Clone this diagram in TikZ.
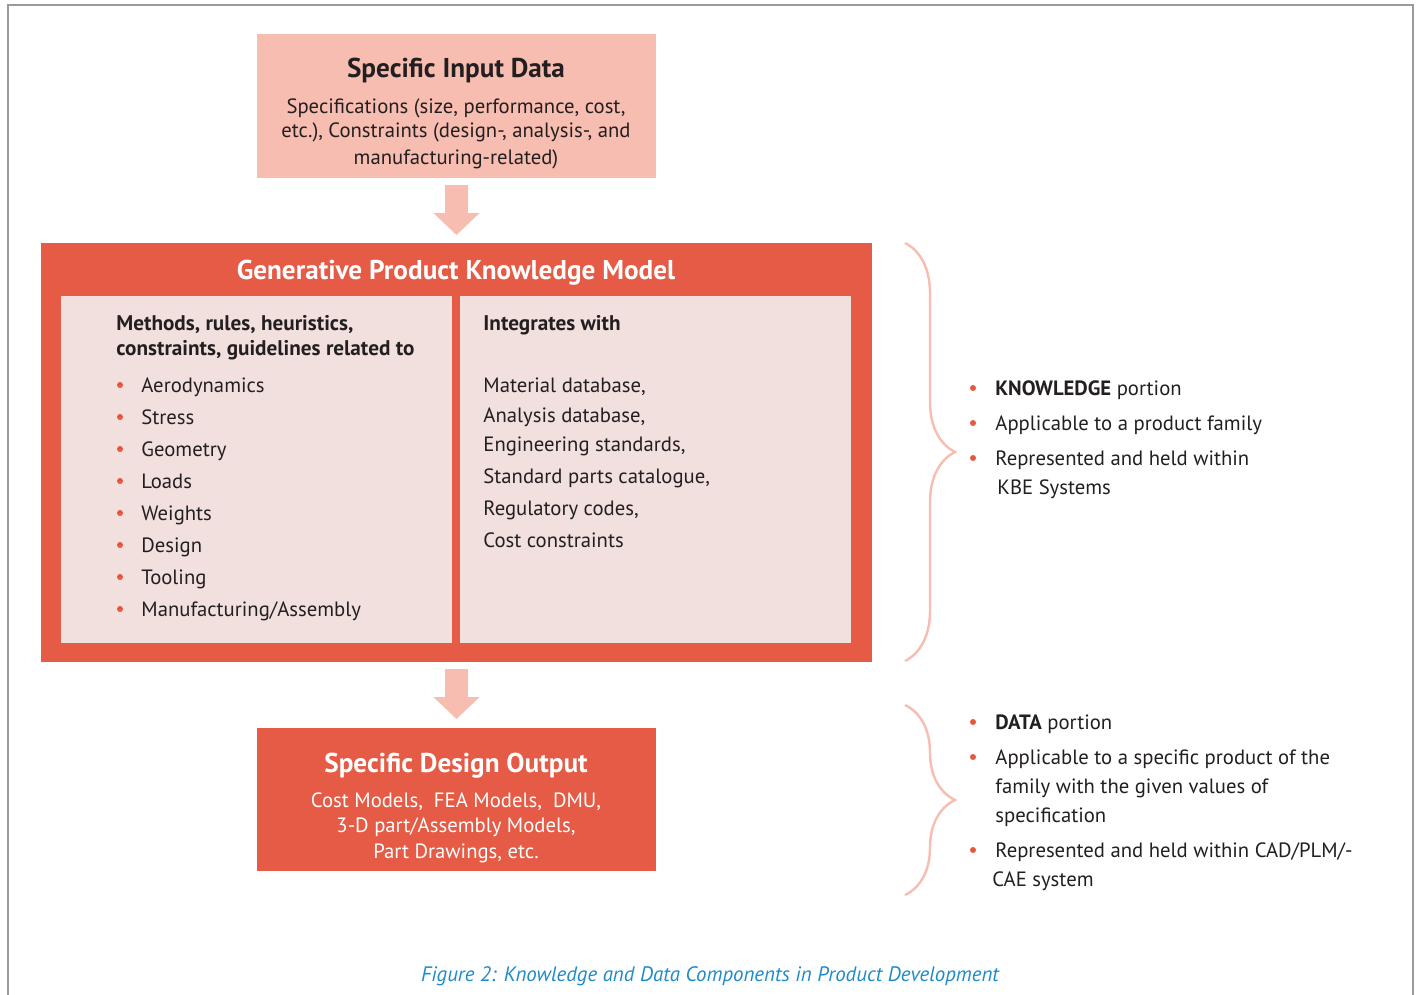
\documentclass[tikz,border=0pt]{standalone}
\usepackage{fontspec}
\setmainfont{PT Sans}
\usetikzlibrary{arrows.meta,decorations.pathreplacing}
\definecolor{lightpink}{HTML}{F7BDB0}
\definecolor{redbox}{HTML}{E55B45}
\definecolor{panel}{HTML}{F2E0DF}
\definecolor{txt}{HTML}{231F20}
\definecolor{capblue}{HTML}{1E8BC9}
\definecolor{bulletc}{HTML}{E8573F}
\definecolor{frame}{HTML}{9A9A9A}
\tikzset{
  boxr/.style={anchor=north west, inner sep=0pt, outer sep=0pt, draw=none},
  body/.style={font=\fontsize{10.35}{12}\selectfont, text=txt, inner sep=0pt, yshift=-1pt},
  title/.style={font=\fontsize{13.6}{15}\selectfont\bfseries, inner sep=0pt, yshift=-2.2pt},
  hd/.style={font=\fontsize{10.6}{12}\selectfont\bfseries, text=txt, inner sep=0pt, anchor=mid west, yshift=-1pt},
  item/.style={body, anchor=mid west},
  dot/.style={circle, fill=bulletc, inner sep=0pt, minimum size=3pt},
  fatarrow/.style={draw=lightpink, line width=11.5pt, -{Triangle[width=22.5pt,length=11pt]}},
  bracec/.style={draw=lightpink, line width=1.2pt, decorate, decoration={brace, amplitude=25pt}}
}
\begin{document}
\begin{tikzpicture}[x=0.5pt,y=-0.5pt]
\useasboundingbox (0,0) rectangle (1418,995);
\draw[frame, line width=1.2pt] (8,995) -- (8,5) -- (1413,5) -- (1413,995);

% top box
\node[boxr, fill=lightpink, minimum width=199.5pt, minimum height=72pt] (top) at (257,34) {};
\node[title, text=txt, anchor=mid] (topt) at (456,68) {Specific Input Data};
\node[body, anchor=mid] (t1) at (456,106) {Specifications (size, performance, cost,};
\node[body, anchor=mid] (t2) at (456,131) {etc.), Constraints (design-, analysis-, and};
\node[body, anchor=mid] (t3) at (456,157) {manufacturing-related)};

% main box
\node[boxr, fill=redbox, minimum width=415.5pt, minimum height=209.5pt] (gpkm) at (41,243) {};
\node[title, text=white, anchor=mid] (gt) at (456,270) {Generative Product Knowledge Model};
\node[boxr, fill=panel, minimum width=195.5pt, minimum height=173.5pt] (lp) at (61,296) {};
\node[boxr, fill=panel, minimum width=195.5pt, minimum height=173.5pt] (rp) at (460,296) {};

\node[hd] (lh1) at (116,323) {Methods, rules, heuristics,};
\node[hd] (lh2) at (116,348) {constraints, guidelines related to};
\foreach \t [count=\i from 0] in {Aerodynamics,Stress,Geometry,Loads,Weights,Design,Tooling,Manufacturing/Assembly}{
  \node[dot] (ld\i) at (120,385+32*\i) {};
  \node[item] (li\i) at (141,385+32*\i) {\t};
}

\node[hd] (rh) at (483,323) {Integrates with};
\node[item] (r1) at (483,385) {Material database,};
\node[item] (r2) at (483,415) {Analysis database,};
\node[item] (r3) at (483,444) {Engineering standards,};
\node[item] (r4) at (483,476) {Standard parts catalogue,};
\node[item] (r5) at (483,508) {Regulatory codes,};
\node[item] (r6) at (483,540) {Cost constraints};

% output box
\node[boxr, fill=redbox, minimum width=199.5pt, minimum height=71.5pt] (out) at (257,728) {};
\node[title, text=white, anchor=mid] (ot) at (456,763) {Specific Design Output};
\node[body, text=white, anchor=mid] (o1) at (456,800) {Cost Models,\ \ FEA Models,\ \ DMU,};
\node[body, text=white, anchor=mid] (o2) at (456,825) {3-D part/Assembly Models,};
\node[body, text=white, anchor=mid] (o3) at (456,851) {Part Drawings, etc.};

% arrows
\draw[fatarrow] ([yshift=-3.5pt]top.south) -- ([yshift=4pt]gpkm.north);
\draw[fatarrow] ([yshift=-3.5pt]gpkm.south) -- ([yshift=4.5pt]out.north);

% braces
\coordinate (b1a) at (905,243);
\coordinate (b1b) at (905,661);
\draw[bracec] (b1a) -- (b1b);
\coordinate (b2a) at (905,705);
\coordinate (b2b) at (905,895);
\draw[bracec] (b2a) -- (b2b);

% right bullets - knowledge
\node[dot] (k1d) at (973,388) {};
\node[item] (k1) at (995,388) {\textbf{KNOWLEDGE} portion};
\node[dot] (k2d) at (973,423) {};
\node[item] (k2) at (995,423) {Applicable to a product family};
\node[dot] (k3d) at (973,458) {};
\node[item] (k3) at (995,458) {Represented and held within};
\node[item] (k4) at (997,487) {KBE Systems};

% right bullets - data
\node[dot] (d1d) at (973,722) {};
\node[item] (d1) at (995,722) {\textbf{DATA} portion};
\node[dot] (d2d) at (973,757) {};
\node[item] (d2) at (995,757) {Applicable to a specific product of the};
\node[item] (d3) at (995,786) {family with the given values of};
\node[item] (d4) at (995,815) {specification};
\node[dot] (d5d) at (973,850) {};
\node[item] (d5) at (995,850) {Represented and held within CAD/PLM/-};
\node[item] (d6) at (992,879) {CAE system};

% caption
\node[font=\fontsize{10.45}{12}\selectfont\itshape, text=capblue, anchor=mid, inner sep=0pt, yshift=-1pt] (cap) at (710,974) {Figure 2: Knowledge and Data Components in Product Development};
\end{tikzpicture}
\end{document}
